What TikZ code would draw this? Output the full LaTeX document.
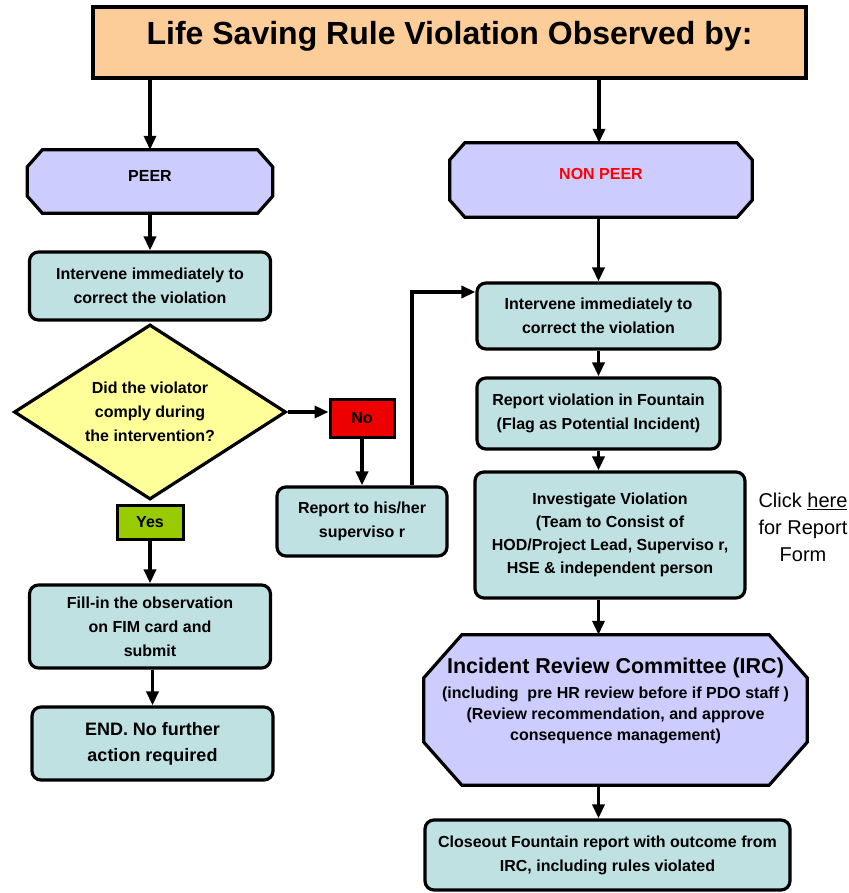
\documentclass[tikz,border=0pt]{standalone}
\usepackage{fontspec}
\setmainfont{Liberation Sans}
\usepackage{xcolor}
\usetikzlibrary{shapes.geometric,arrows.meta}

\definecolor{titlepeach}{RGB}{252,204,153}
\definecolor{stepcyan}{RGB}{191,225,226}
\definecolor{lavender}{RGB}{204,204,255}
\definecolor{askyellow}{RGB}{255,255,153}
\definecolor{nored}{RGB}{238,0,0}
\definecolor{yesgreen}{RGB}{153,204,0}

\pgfdeclarelayer{back}
\pgfsetlayers{back,main}

\tikzset{
	boxtext/.style={align=center, inner sep=0pt, font=\bfseries\fontsize{16}{24}\selectfont},
	stepbox/.style={boxtext, draw, line width=3.2pt, fill=stepcyan, rounded corners=9pt},
	whobox/.style={boxtext},
	whoframe/.style={draw, line width=3.2pt, fill=lavender},
	tagbox/.style={boxtext, draw, line width=3pt, font=\bfseries\fontsize{16}{20}\selectfont},
	wire/.style={line width=3.4pt, -{Triangle[width=12pt,length=14pt]}},
}

% frame with cut corners behind a named node: name, cut x, cut y
\newcommand{\cutframe}[3]{%
	\begin{pgfonlayer}{back}
		\draw[whoframe] ([xshift=#2]#1.north west) -- ([xshift=-#2]#1.north east) -- ([yshift=-#3]#1.north east) -- ([yshift=#3]#1.south east) -- ([xshift=-#2]#1.south east) -- ([xshift=#2]#1.south west) -- ([yshift=#3]#1.south west) -- ([yshift=-#3]#1.north west) -- cycle;
	\end{pgfonlayer}}

\begin{document}
\begin{tikzpicture}[x=1pt, y=-1pt]
				\useasboundingbox (0, 0) rectangle (848, 893);
				% Paths, nodes and wires:
				\node[draw, line width=3.2pt, fill=titlepeach, minimum width=713pt, minimum height=71pt, inner sep=0pt, font=\bfseries\fontsize{32}{36}\selectfont, text height=23pt, text depth=18pt](title) at (449.5, 42.5){Life Saving Rule Violation Observed by:};
				\node[whobox, minimum width=245pt, minimum height=63pt, text height=12pt, text depth=12pt](peer) at (150, 181.5){PEER};
				\cutframe{peer}{15pt}{17pt}
				\node[whobox, minimum width=302pt, minimum height=74pt, text height=12pt, text depth=12pt, text=red](nonpeer) at (601, 180){NON PEER};
				\cutframe{nonpeer}{15pt}{17pt}
				\node[stepbox, minimum width=241pt, minimum height=68pt](act1) at (150, 286){Intervene immediately to\\correct the violation};
				\node[boxtext, draw, line width=3.2pt, fill=askyellow, diamond, aspect=1.55, minimum width=272pt, minimum height=175pt](ask) at (150, 412){Did the violator\\comply during\\the intervention?};
				\node[tagbox, fill=yesgreen, minimum width=66pt, minimum height=34pt](yes) at (150, 522){Yes};
				\node[tagbox, fill=nored, minimum width=64pt, minimum height=38pt](no) at (362, 418){No};
				\node[stepbox, minimum width=170pt, minimum height=69pt](boss) at (362, 521.5){Report to his/her\\superviso r};
				\node[stepbox, minimum width=241pt, minimum height=83pt](card) at (150, 626.5){Fill-in the observation\\on FIM card and\\submit};
				\node[stepbox, minimum width=241pt, minimum height=73pt, font=\bfseries\fontsize{18}{26}\selectfont](stop) at (152.5, 743.5){END. No further\\action required};
				\node[stepbox, minimum width=243pt, minimum height=66pt](act2) at (598.5, 316){Intervene immediately to\\correct the violation};
				\node[stepbox, minimum width=243pt, minimum height=71pt](flag) at (598.5, 413.5){Report violation in Fountain\\(Flag as Potential Incident)};
				\node[stepbox, minimum width=270pt, minimum height=126pt, font=\bfseries\fontsize{16}{23}\selectfont](probe) at (610, 535){Investigate Violation\\(Team to Consist of\\HOD/Project Lead, Superviso r,\\HSE \& independent person};
				\node[whobox, minimum width=383pt, minimum height=150pt, font=\bfseries\fontsize{16}{21}\selectfont, text depth=22pt](irc) at (615.5, 710){{\fontsize{21.5}{24}\selectfont Incident Review Committee (IRC)}\\[4pt](including\ \ pre HR review before if PDO staff )\\(Review recommendation, and approve\\consequence management)};
				\cutframe{irc}{38pt}{43pt}
				\node[stepbox, minimum width=365pt, minimum height=70pt](close) at (607.5, 855){Closeout Fountain report with outcome from\\IRC, including rules violated};
				\node[align=center, inner sep=0pt, font=\fontsize{20}{27}\selectfont](link) at (803, 527){Click \underline{here}\\for Report\\Form};
				\draw[wire] (title.south -| peer.north) -- (peer.north);
				\draw[wire] ([xshift=-2pt]title.south -| nonpeer.north) -- ([xshift=-2pt]nonpeer.north);
				\draw[wire] (peer.south) -- (peer.south |- act1.north);
				\draw[wire] (ask.east) -- (ask.east -| no.west);
				\draw[wire] (no.south) -- (no.south |- boss.north);
				\draw[wire] ([xshift=50pt]boss.north) |- ([yshift=24pt]act2.west);
				\draw[wire] (yes.south) -- (yes.south |- card.north);
				\draw[wire] (card.south -| stop.north) -- (stop.north);
				\draw[wire] (nonpeer.south -| act2.north) -- (act2.north);
				\draw[wire] (act2.south) -- (act2.south |- flag.north);
				\draw[wire] (flag.south) -- (flag.south |- probe.north);
				\draw[wire] (flag.south |- probe.south) -- (flag.south |- irc.north);
				\draw[wire] (flag.south |- irc.south) -- (flag.south |- close.north);
			\end{tikzpicture}
\end{document}
